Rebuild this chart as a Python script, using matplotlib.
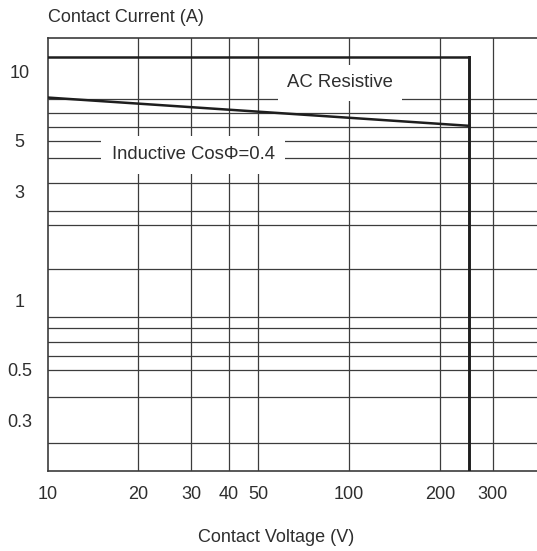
import matplotlib
matplotlib.use("Agg")
import matplotlib.pyplot as plt

plt.rcParams['font.family'] = ['Liberation Sans', 'DejaVu Sans']

# ---------- Data ----------
x_ticks = [10, 20, 30, 40, 50, 100, 200, 300]
x_tick_labels = ["10", "20", "30", "40", "50", "100", "200", "300"]
y_ticks = [0.3, 0.5, 1, 3, 5, 10]
y_tick_labels = ["0.3", "0.5", "1", "3", "5", "10"]

# grid lines (the printed grid is not evenly spaced)
x_grid = [20, 30, 40, 50, 100, 200, 300]
y_grid = [0.24, 0.38, 0.5, 0.575, 0.66, 0.76, 0.85, 1.38, 2.15, 2.47,
          3.28, 4.2, 5.0, 5.75, 6.63, 7.62]

# limit curves
resistive_v = [10, 250, 250]
resistive_a = [11.6, 11.6, 0.181]
inductive_v = [10, 250]
inductive_a = [7.72, 5.81]

x_lim = (10, 420)
y_lim = (0.181, 14.0)

# ---------- Figure ----------
fig = plt.figure(figsize=(5.37, 5.51), dpi=100)
ax = fig.add_axes([47.5 / 537, 1 - 471 / 551, 1 - 47.5 / 537, (471 - 38.3) / 551])
ax.set_xscale("log")
ax.set_yscale("log")
ax.set_xlim(*x_lim)
ax.set_ylim(*y_lim)

grid_c = "#3c3c3c"
txt_c = "#2e2e2e"
for v in x_grid:
    ax.axvline(v, color=grid_c, lw=0.9, zorder=1)
for a in y_grid:
    ax.axhline(a, color=grid_c, lw=0.9, zorder=1)

ax.plot(resistive_v[:2], resistive_a[:2], color="#1e1e1e", lw=1.8, zorder=3)
ax.plot(resistive_v[1:], resistive_a[1:], color="#1e1e1e", lw=2.1, zorder=3)
ax.plot(inductive_v, inductive_a, color="#1e1e1e", lw=1.8, zorder=3)

ax.text(93.3, 8.95, "AC Resistive", fontsize=13.3, ha="center", va="center",
        color=txt_c, zorder=4,
        bbox=dict(boxstyle="square,pad=0.5", fc="white", ec="none"))
ax.text(30.4, 4.34, "Inductive Cos\u03a6=0.4", fontsize=13.3, ha="center", va="center",
        color=txt_c, zorder=4,
        bbox=dict(boxstyle="square,pad=0.56", fc="white", ec="none"))

ax.set_xticks(x_ticks)
ax.set_xticklabels(x_tick_labels)
ax.set_yticks(y_ticks)
ax.set_yticklabels(y_tick_labels)
ax.minorticks_off()
ax.tick_params(axis="both", length=0, labelsize=13, colors=txt_c)
ax.tick_params(axis="x", pad=11)
ax.tick_params(axis="y", pad=20)
for lab in ax.get_yticklabels():
    lab.set_horizontalalignment("center")

for side in ["top", "left", "bottom"]:
    ax.spines[side].set_color(grid_c)
    ax.spines[side].set_linewidth(1.2)
ax.spines["right"].set_visible(False)

fig.text(48 / 537, 1 - 17 / 551, "Contact Current (A)", fontsize=13,
         ha="left", va="center", color=txt_c)
fig.text(276 / 537, 1 - 537 / 551, "Contact Voltage (V)", fontsize=13,
         ha="center", va="center", color=txt_c)

fig.savefig("out.png", dpi=100)
